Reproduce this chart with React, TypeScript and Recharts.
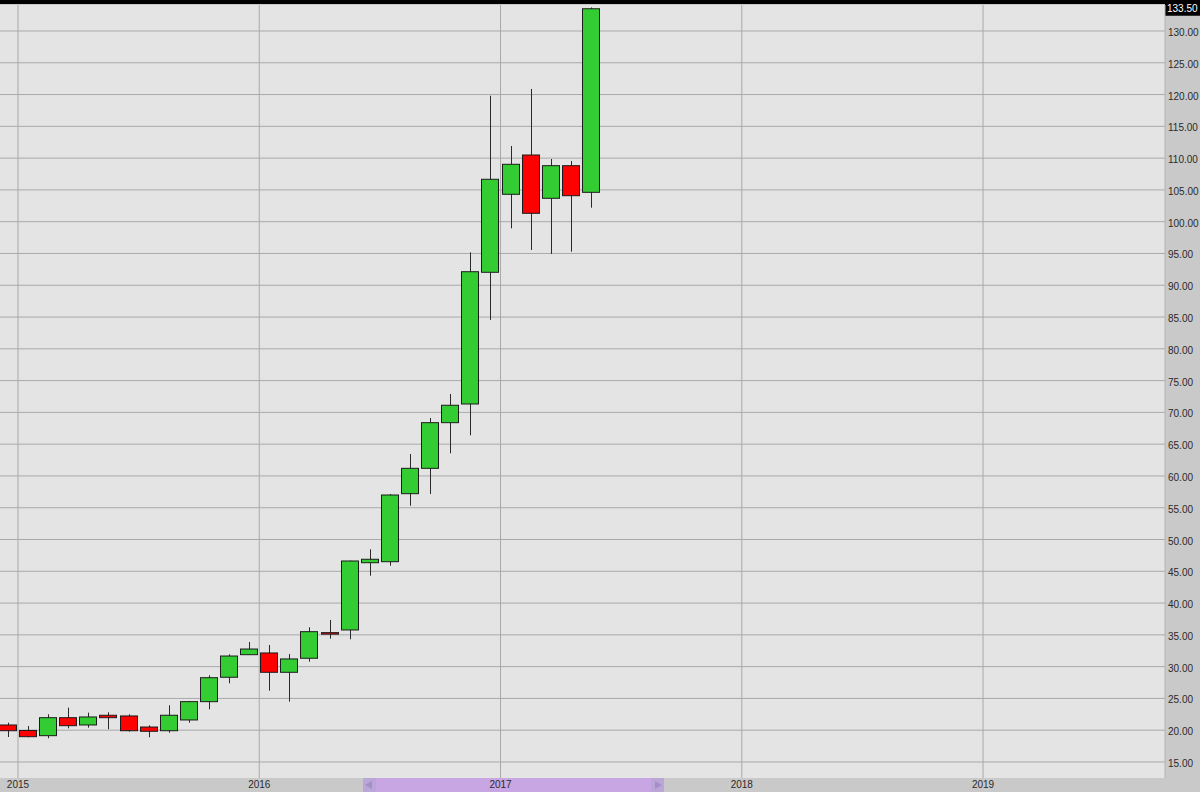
import React from 'react';
import { ComposedChart, Bar, XAxis, YAxis, CartesianGrid, ReferenceLine } from 'recharts';

// Monthly candles, index 0 = Jan 2015
const monthIndex = [-1, 0, 1, 2, 3, 4, 5, 6, 7, 8, 9, 10, 11, 12, 13, 14, 15, 16, 17, 18, 19, 20, 21, 22, 23, 24, 25, 26, 27, 28, 29];
const monthLabels = ['2014-12', '2015-01', '2015-02', '2015-03', '2015-04', '2015-05', '2015-06', '2015-07', '2015-08', '2015-09', '2015-10', '2015-11', '2015-12', '2016-01', '2016-02', '2016-03', '2016-04', '2016-05', '2016-06', '2016-07', '2016-08', '2016-09', '2016-10', '2016-11', '2016-12', '2017-01', '2017-02', '2017-03', '2017-04', '2017-05'];
const opens = [20.82, 19.96, 19.14, 21.97, 20.82, 22.35, 22.24, 20.5, 19.92, 21.61, 24.49, 28.33, 31.88, 32.15, 29.11, 31.32, 35.35, 35.77, 46.35, 46.51, 57.21, 61.2, 68.38, 71.32, 92.04, 104.31, 110.49, 103.68, 108.81, 104.62];
const highs = [21.18, 20.66, 22.5, 23.54, 22.76, 22.82, 22.5, 20.77, 23.92, 24.6, 28.64, 31.94, 33.88, 33.41, 31.99, 36.19, 37.34, 46.7, 48.46, 57.16, 63.45, 69.12, 72.89, 95.18, 119.82, 111.91, 120.88, 109.86, 109.55, 133.7];
const lows = [18.93, 18.89, 18.73, 20.3, 20.4, 20.15, 19.77, 18.89, 19.61, 21.18, 23.29, 27.38, 31.88, 26.22, 24.49, 30.78, 34.4, 34.3, 44.31, 45.88, 55.32, 57.16, 63.56, 66.4, 84.54, 98.96, 95.55, 94.92, 95.28, 102.2];
const closes = [19.92, 18.98, 21.97, 20.71, 22.08, 21.97, 19.92, 19.83, 22.35, 24.49, 28.26, 31.67, 32.77, 29.11, 31.21, 35.5, 35.25, 46.62, 46.89, 57.0, 61.2, 68.38, 71.12, 92.13, 106.67, 109.03, 101.32, 108.81, 104.09, 133.5];

const yearTicks = [0, 12, 24, 36, 48];
const yearLabels = ['2015', '2016', '2017', '2018', '2019'];
const priceTicks = [15, 20, 25, 30, 35, 40, 45, 50, 55, 60, 65, 70, 75, 80, 85, 90, 95, 100, 105, 110, 115, 120, 125, 130];
const lastPrice = 133.5;
const xDomain: [number, number] = [-0.895, 57.05];
const yDomain: [number, number] = [12.48, 134.09];

const data = monthLabels.map((m, i) => ({
  month: m,
  t: monthIndex[i] + 0.5,
  open: opens[i],
  high: highs[i],
  low: lows[i],
  close: closes[i],
  range: [lows[i], highs[i]],
}));

const FONT = '"Liberation Sans", Arial, sans-serif';

const Candle = (props: any) => {
  const { x, y, width, height, payload } = props;
  if (!payload) return null;
  const { open, close, high, low } = payload;
  const h = Math.abs(height);
  const top = height >= 0 ? y : y + height;
  const ppu = h / (high - low || 1);
  const yOf = (v: number) => top + (high - v) * ppu;
  const cx = Math.round(x + width / 2) + 0.5;
  const yO = yOf(open);
  const yC = yOf(close);
  const bodyTop = Math.min(yO, yC);
  let bodyH = Math.abs(yO - yC);
  if (bodyH < 1.5) bodyH = 1.5;
  const up = close >= open;
  return (
    <g>
      <line x1={cx} x2={cx} y1={top} y2={top + h} stroke="#2a2a2a" strokeWidth={1} />
      <rect
        x={Math.round(x) + 0.5}
        y={bodyTop}
        width={width - 1}
        height={bodyH}
        fill={up ? '#33cc33' : '#ff0000'}
        stroke="#1c1c1c"
        strokeWidth={1}
      />
    </g>
  );
};

const YTick = (props: any) => {
  const { x, y, payload } = props;
  return (
    <text x={x} y={y} dy={5} fontSize={10} fontFamily={FONT} fill="#2a2a2a" textAnchor="start">
      {Number(payload.value).toFixed(2)}
    </text>
  );
};

const XTick = (props: any) => {
  const { x, y, payload } = props;
  const idx = yearTicks.indexOf(payload.value);
  return (
    <text x={x} y={y} dy={8} fontSize={10} fontFamily={FONT} fill="#2a2a2a" textAnchor="middle">
      {idx >= 0 ? yearLabels[idx] : ''}
    </text>
  );
};

const PriceLabel = (props: any) => {
  const vb = props.viewBox || {};
  const x = (vb.x || 0) + (vb.width || 0);
  const y = vb.y || 0;
  return (
    <g>
      <rect x={x} y={y - 9} width={35} height={16} fill="#000" />
      <text x={x + 2} y={y + 3} fontSize={10} fontFamily={FONT} fill="#fff">
        {lastPrice.toFixed(2)}
      </text>
    </g>
  );
};

// grid lines only at the axis ticks (no extra edge lines)
const vGen = (p: any) => {
  const off = (p && p.offset) || {};
  const left = off.left || 0;
  const w = off.width || 0;
  return yearTicks.map((t) => left + ((t - xDomain[0]) / (xDomain[1] - xDomain[0])) * w);
};

const hGen = (p: any) => {
  const off = (p && p.offset) || {};
  const top = off.top || 0;
  const h = off.height || 0;
  return priceTicks.map((v) => top + ((yDomain[1] - v) / (yDomain[1] - yDomain[0])) * h);
};

export default function App() {
  return (
    <div style={{ position: 'fixed', left: 0, top: 0, width: 1200, height: 792, background: '#c9c9c9', overflow: 'hidden' }}>
      <div style={{ position: 'absolute', left: 0, top: 0, width: 1200, height: 4, background: '#000' }} />
      {/* scrollbar */}
      <div style={{ position: 'absolute', left: 363, top: 778, width: 301, height: 14, background: '#c7a6e3' }} />
      <div style={{ position: 'absolute', left: 363, top: 778, width: 13, height: 14, background: '#bba6d8' }} />
      <div style={{ position: 'absolute', left: 651, top: 778, width: 13, height: 14, background: '#bba6d8' }} />
      <div style={{ position: 'absolute', left: 365, top: 781, width: 0, height: 0, borderTop: '4px solid transparent', borderBottom: '4px solid transparent', borderRight: '7px solid #a68fc9' }} />
      <div style={{ position: 'absolute', left: 655, top: 781, width: 0, height: 0, borderTop: '4px solid transparent', borderBottom: '4px solid transparent', borderLeft: '7px solid #a68fc9' }} />
      <div style={{ position: 'absolute', left: 0, top: 0 }}>
        <ComposedChart width={1200} height={792} data={data} margin={{ top: 5, right: 0, bottom: 0, left: 0 }}>
          <CartesianGrid
            fill="#e4e4e4"
            stroke="#a9a9a9"
            strokeWidth={1}
            horizontal
            vertical
            verticalCoordinatesGenerator={vGen}
            horizontalCoordinatesGenerator={hGen}
          />
          <XAxis
            dataKey="t"
            type="number"
            domain={xDomain}
            allowDataOverflow
            ticks={yearTicks}
            interval={0}
            height={14}
            axisLine={false}
            tickLine={false}
            tickSize={0}
            tickMargin={2}
            tick={<XTick />}
          />
          <YAxis
            orientation="right"
            type="number"
            domain={yDomain}
            allowDataOverflow
            ticks={priceTicks}
            interval={0}
            width={35}
            axisLine={{ stroke: '#b4b4b4' }}
            tickLine={false}
            tickSize={0}
            tickMargin={3}
            tick={<YTick />}
          />
          <Bar dataKey="range" barSize={18} shape={<Candle />} isAnimationActive={false} />
          <ReferenceLine y={lastPrice} stroke="none" ifOverflow="visible" label={<PriceLabel />} />
        </ComposedChart>
      </div>
    </div>
  );
}
